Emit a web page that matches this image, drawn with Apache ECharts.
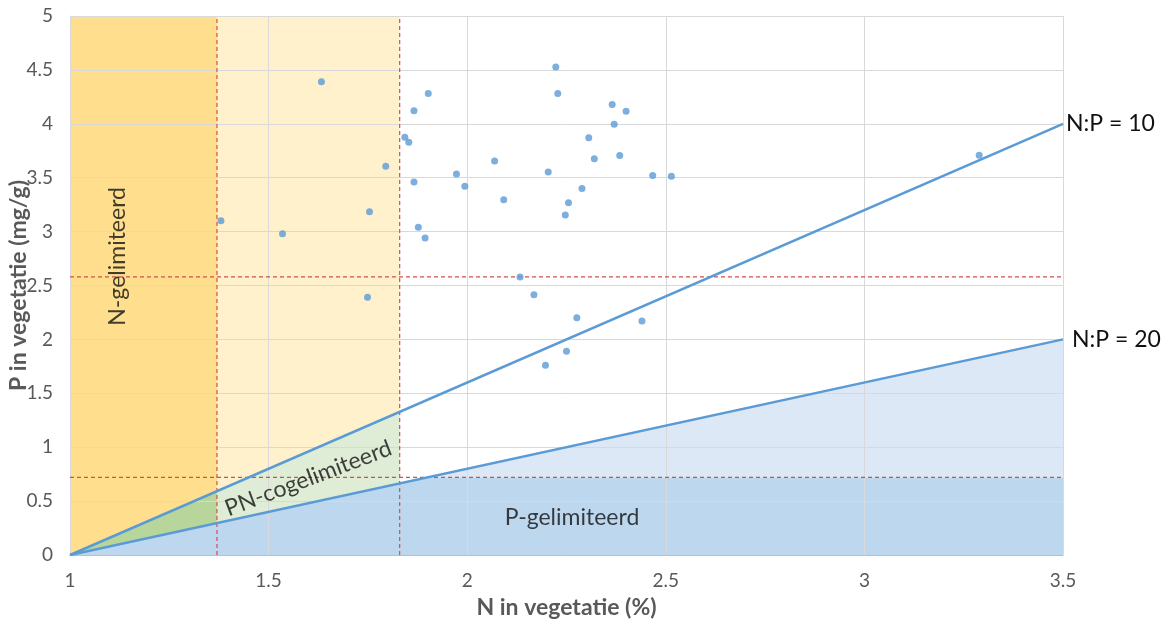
<!DOCTYPE html>
<html>
<head>
<meta charset="utf-8">
<script src="https://cdn.jsdelivr.net/npm/echarts@6/dist/echarts.min.js"></script>
<style>html,body{margin:0;padding:0;background:#fff;}#c{width:1168px;height:620px;}</style>
</head>
<body>
<div id="c"></div>
<script>
// ---- data ----
const nValues = [1.380,1.535,1.633,1.749,1.754,1.795,1.843,1.853,1.866,1.866,1.877,1.894,1.902,1.973,1.994,2.069,2.092,2.133,2.168,2.197,2.204,2.223,2.228,2.247,2.250,2.255,2.276,2.289,2.306,2.320,2.365,2.370,2.384,2.400,2.440,2.467,2.514,3.289];
const pValues = [3.10,2.98,4.39,2.39,3.185,3.606,3.875,3.83,4.12,3.46,3.04,2.94,4.28,3.534,3.42,3.655,3.296,2.579,2.415,1.76,3.553,4.527,4.28,3.154,1.89,3.268,2.20,3.40,3.87,3.676,4.18,3.995,3.707,4.116,2.17,3.52,3.513,3.708];
const np10Line = [[1,0],[3.5,4]];
const np20Line = [[1,0],[3.5,2]];
const nLimit = 1.37;      // vertical dashed
const pnLimit = 1.83;     // vertical dashed
const pLimitHigh = 2.58;  // horizontal dashed
const pLimitLow = 0.72;   // horizontal dashed
const xTicks = [1,1.5,2,2.5,3,3.5];
const yTicks = [0,0.5,1,1.5,2,2.5,3,3.5,4,4.5,5];
const lineNames = ['N:P = 10','N:P = 20'];
const regionNames = ['N-gelimiteerd','PN-cogelimiteerd','P-gelimiteerd'];
const regionLabelPos = [[1.121,2.77],[1.60,0.71],[2.264,0.35]];
const xTitle = 'N in vegetatie (%)';
const yTitle = 'P in vegetatie (mg/g)';

// ---- derived geometry (from the values above) ----
const xMin = xTicks[0], xMax = xTicks[xTicks.length-1];
const yMin = yTicks[0], yMax = yTicks[yTicks.length-1];
const slope10 = (np10Line[1][1]-np10Line[0][1])/(np10Line[1][0]-np10Line[0][0]);
const slope20 = (np20Line[1][1]-np20Line[0][1])/(np20Line[1][0]-np20Line[0][0]);
const y10 = x => np10Line[0][1] + slope10*(x-np10Line[0][0]);
const y20 = x => np20Line[0][1] + slope20*(x-np20Line[0][0]);
const xCross = np20Line[0][0] + (pLimitLow-np20Line[0][1])/slope20;

const polys = [
  [[xMin,yMin],[nLimit,yMin],[nLimit,yMax],[xMin,yMax]],
  [[nLimit,yMin],[pnLimit,yMin],[pnLimit,yMax],[nLimit,yMax]],
  [[xCross,pLimitLow],[xMax,y20(xMax)],[xMax,pLimitLow]],
  [[xMin,yMin],[xCross,pLimitLow],[xMax,pLimitLow],[xMax,yMin]],
  [[xMin,y10(xMin)],[nLimit,y10(nLimit)],[nLimit,y20(nLimit)]],
  [[nLimit,y10(nLimit)],[pnLimit,y10(pnLimit)],[pnLimit,y20(pnLimit)],[nLimit,y20(nLimit)]]
];
const polyColors = ['#FFDF8E','#FFF1CB','#DCE8F5','#BDD7EE','#B8D69C','#E0EDD6'];
const dashedLines = [
  [[nLimit,yMin],[nLimit,yMax]],
  [[pnLimit,yMin],[pnLimit,yMax]],
  [[xMin,pLimitHigh],[xMax,pLimitHigh]],
  [[xMin,pLimitLow],[xMax,pLimitLow]]
];

const chart = echarts.init(document.getElementById('c'), null, {renderer:'canvas'});
const font = 'Lato';
const rotations = [90, 20.7, 0];

const series = [
  {type:'custom', z:1, silent:true, clip:true,
   data: polys.map(p => p[0]),
   renderItem:(params, api) => {
     const pts = polys[params.dataIndex].map(p => api.coord(p));
     return {type:'polygon', shape:{points:pts}, style:{fill:polyColors[params.dataIndex]}};
   }
  }
];
dashedLines.forEach(d => series.push({type:'line', z:3, silent:true, symbol:'none', data:d,
  lineStyle:{color:'#D0504D', width:1.2, type:[4,3]}}));
series.push(
  {type:'line', name:lineNames[0], z:4, data:np10Line, symbol:'none', lineStyle:{color:'#5B9BD5', width:2.5},
   endLabel:{show:true, formatter:lineNames[0], color:'#111', fontSize:23, fontFamily:font, distance:3}},
  {type:'line', name:lineNames[1], z:4, data:np20Line, symbol:'none', lineStyle:{color:'#5B9BD5', width:2.5},
   endLabel:{show:true, formatter:lineNames[1], color:'#111', fontSize:23, fontFamily:font, distance:9}},
  {type:'scatter', z:5, symbolSize:7, itemStyle:{color:'#5B9BD5'},
   data: nValues.map((n,i) => [n, pValues[i]])},
  {type:'scatter', z:6, symbolSize:1, silent:true, itemStyle:{color:'rgba(0,0,0,0)'},
   label:{show:true, position:'inside', color:'#111', fontSize:23, fontFamily:font,
          formatter:p => regionNames[p.dataIndex]},
   labelLayout:{hideOverlap:false},
   data: regionLabelPos.map((pos,i) => ({value:pos, label:{rotate:rotations[i]}}))
  }
);

chart.setOption({
  animation:false,
  backgroundColor:'#fff',
  grid:{left:70, right:105, top:16, bottom:65, containLabel:false, outerBoundsMode:'none'},
  xAxis:{type:'value', min:xMin, max:xMax, interval:0.5, z:1.5,
    name:xTitle, nameLocation:'middle', nameGap:41, nameMoveOverlap:false,
    nameTextStyle:{color:'#595959', fontSize:23, fontWeight:'bold', fontFamily:font},
    axisLine:{show:true, lineStyle:{color:'#BFBFBF', width:1}},
    axisTick:{show:false},
    splitLine:{show:true, lineStyle:{color:'#D9D9D9', width:1}},
    axisLabel:{color:'#595959', fontSize:19, fontFamily:font, margin:16}
  },
  yAxis:{type:'value', min:yMin, max:yMax, interval:0.5, z:1.5,
    name:yTitle, nameLocation:'middle', nameGap:40, nameMoveOverlap:false,
    nameTextStyle:{color:'#595959', fontSize:23, fontWeight:'bold', fontFamily:font},
    axisLine:{show:true, lineStyle:{color:'#D9D9D9', width:1}},
    axisTick:{show:false},
    splitLine:{show:true, lineStyle:{color:'#D9D9D9', width:1}},
    axisLabel:{color:'#595959', fontSize:19, fontFamily:font, margin:17}
  },
  series: series
});
</script>
</body>
</html>
